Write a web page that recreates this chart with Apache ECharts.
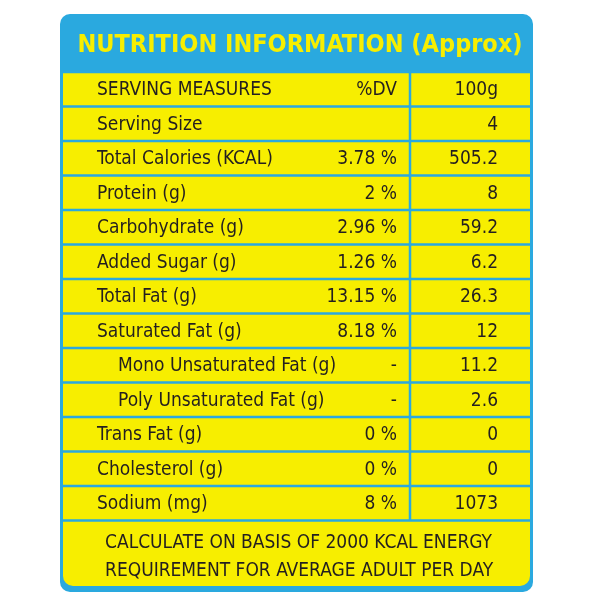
<!DOCTYPE html>
<html><head><meta charset="utf-8">
<script src="https://cdn.jsdelivr.net/npm/echarts@6/dist/echarts.min.js"></script>
<style>html,body{margin:0;padding:0;background:#fff}#main{width:600px;height:600px}</style>
</head><body><div id="main"></div>
<script>
var title = 'NUTRITION INFORMATION (Approx)';
var labels = ['SERVING MEASURES', 'Serving Size', 'Total Calories (KCAL)', 'Protein (g)', 'Carbohydrate (g)',
  'Added Sugar (g)', 'Total Fat (g)', 'Saturated Fat (g)', 'Mono Unsaturated Fat (g)',
  'Poly Unsaturated Fat (g)', 'Trans Fat (g)', 'Cholesterol (g)', 'Sodium (mg)'];
var dv = ['%DV', '', '3.78 %', '2 %', '2.96 %', '1.26 %', '13.15 %', '8.18 %', '-', '-', '0 %', '0 %', '8 %'];
var amounts = ['100g', '4', '505.2', '8', '59.2', '6.2', '26.3', '12', '11.2', '2.6', '0', '0', '1073'];
var indented = [8, 9];
var footer = ['CALCULATE ON BASIS OF 2000 KCAL ENERGY', 'REQUIREMENT FOR AVERAGE ADULT PER DAY'];

(function () {
  var BLUE = '#2aa9df', YEL = '#f7ee00', INK = '#231f20';
  var FONT = '"Liberation Sans Narrow", "DejaVu Sans Condensed", sans-serif';
  var x0 = 60, x1 = 533, y0 = 72, rowH = 34.5, colX = 410;
  var els = [];
  els.push({ type: 'rect', shape: { x: x0, y: 14, width: x1 - x0, height: 578, r: 10 }, style: { fill: BLUE } });
  els.push({ type: 'text', style: { x: 300, y: 45, text: title, fill: YEL, font: 'bold 25px ' + FONT, align: 'center', verticalAlign: 'middle' } });
  var bottom = y0 + rowH * labels.length;
  els.push({ type: 'rect', shape: { x: x0 + 3, y: y0, width: x1 - x0 - 6, height: 586 - y0, r: [0, 0, 10, 10] }, style: { fill: YEL } });
  for (var i = 0; i <= labels.length; i++) {
    els.push({ type: 'line', shape: { x1: x0 + 3, y1: y0 + i * rowH, x2: x1 - 3, y2: y0 + i * rowH }, style: { stroke: BLUE, lineWidth: 2.5 } });
  }
  els.push({ type: 'line', shape: { x1: colX, y1: y0, x2: colX, y2: bottom }, style: { stroke: BLUE, lineWidth: 2.5 } });
  labels.forEach(function (l, i) {
    var cy = y0 + rowH * i + rowH / 2 + 1;
    var ind = indented.indexOf(i) >= 0 ? 21 : 0;
    els.push({ type: 'text', style: { x: 97 + ind, y: cy, text: l, fill: INK, font: '19px ' + FONT, verticalAlign: 'middle' } });
    els.push({ type: 'text', style: { x: 397, y: cy, text: dv[i], fill: INK, font: '19px ' + FONT, align: 'right', verticalAlign: 'middle' } });
    els.push({ type: 'text', style: { x: 498, y: cy, text: amounts[i], fill: INK, font: '19px ' + FONT, align: 'right', verticalAlign: 'middle' } });
  });
  footer.forEach(function (t, i) {
    els.push({ type: 'text', style: { x: 105, y: 543 + i * 28, text: t, fill: INK, font: '19px ' + FONT, verticalAlign: 'middle' } });
  });
  var chart = echarts.init(document.getElementById('main'));
  chart.setOption({ graphic: { elements: els } });
})();
</script></body></html>
